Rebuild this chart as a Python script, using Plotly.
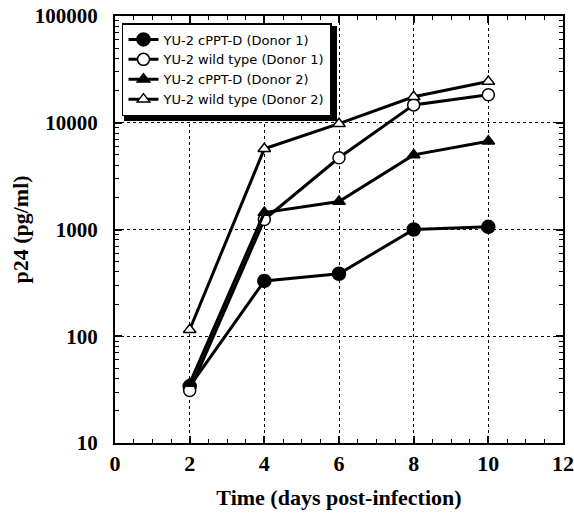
import plotly.graph_objects as go

days = [2, 4, 6, 8, 10]
cppt_d1 = [34, 330, 385, 1000, 1060]
wt_d1 = [31, 1240, 4700, 14700, 18300]
cppt_d2 = [36, 1440, 1830, 5000, 6700]
wt_d2 = [115, 5700, 9800, 17500, 24300]

names = ["YU-2 cPPT-D (Donor 1)", "YU-2 wild type (Donor 1)",
         "YU-2 cPPT-D (Donor 2)", "YU-2 wild type (Donor 2)"]
x_ticks = [0, 2, 4, 6, 8, 10, 12]
y_ticks = [10, 100, 1000, 10000, 100000]
y_minor = [m * 10 ** e for e in range(1, 5) for m in range(2, 10)]

series = [cppt_d1, wt_d1, cppt_d2, wt_d2]
symbols = ["circle", "circle", "triangle-up", "triangle-up"]
fills = ["black", "white", "black", "white"]
sizes = [13, 12, 11, 11]

fig = go.Figure()
for i in range(4):
    fig.add_trace(go.Scatter(
        x=days, y=series[i], name=names[i], mode="lines+markers",
        line=dict(color="black", width=3),
        marker=dict(symbol=symbols[i], size=sizes[i], color=fills[i],
                    line=dict(color="black", width=1.5)),
    ))

# legend drop shadow (paper coords; plot area 448 x 427 px)
def px_x(p):
    return (p - 115) / 448.0

def px_y(p):
    return (443 - p) / 427.0

fig.add_shape(type="rect", xref="paper", yref="paper",
              x0=px_x(124), x1=px_x(337), y0=px_y(121), y1=px_y(26),
              fillcolor="black", line=dict(width=0), layer="above")

serif = "Liberation Serif, Times New Roman, serif"
fig.update_layout(
    width=574, height=516,
    margin=dict(l=115, r=11, t=16, b=73),
    paper_bgcolor="white", plot_bgcolor="white",
    showlegend=True,
    legend=dict(x=0.0156, y=0.9836, xanchor="left", yanchor="top",
                bgcolor="white", bordercolor="black", borderwidth=1.5,
                font=dict(family="DejaVu Sans, Arial, sans-serif", size=13, color="black"),
                tracegroupgap=0, itemwidth=30),
    xaxis=dict(range=[0, 12], tickvals=x_ticks, ticktext=[str(v) for v in x_ticks],
               ticks="inside", ticklen=7, tickwidth=1.5, tickcolor="black",
               showline=True, linecolor="black", linewidth=2, mirror="ticks",
               showgrid=True, gridcolor="black", griddash="dot", gridwidth=1,
               minor=dict(dtick=0.5, ticks="inside", ticklen=4, tickcolor="black", tickwidth=1.2, showgrid=False),
               tickfont=dict(family=serif, size=22, color="black", weight="bold"),
               automargin=False,
               title=dict(text="Time (days post-infection)", standoff=14,
                          font=dict(family=serif, size=22, color="black", weight="bold")),
               zeroline=False),
    yaxis=dict(type="log", range=[1, 5], tickvals=y_ticks, ticktext=[str(v) for v in y_ticks],
               ticks="inside", ticklen=7, tickwidth=1.5, tickcolor="black",
               showline=True, linecolor="black", linewidth=2, mirror="ticks",
               showgrid=True, gridcolor="black", griddash="dot", gridwidth=1,
               minor=dict(tickvals=y_minor, ticks="inside", ticklen=4, tickcolor="black", tickwidth=1.2, showgrid=False),
               tickfont=dict(family=serif, size=21, color="black", weight="bold"),
               ticklabelstandoff=11, automargin=False,
               title=dict(text="p24 (pg/ml)", standoff=0,
                          font=dict(family=serif, size=22, color="black", weight="bold")),
               zeroline=False),
)
fig.write_html("out.html")
